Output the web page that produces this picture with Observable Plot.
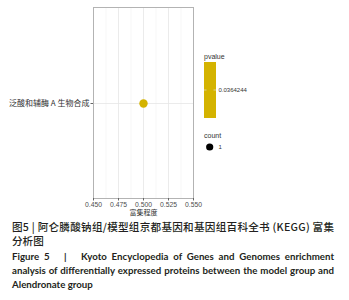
<!DOCTYPE html>
<html><head><meta charset="utf-8">
<script src="https://cdn.jsdelivr.net/npm/d3@7"></script>
<script src="https://cdn.jsdelivr.net/npm/@observablehq/plot@0.6"></script>
<style>
body{margin:0;background:#fff;width:349px;height:300px;overflow:hidden;position:relative;font-family:"Noto Sans CJK SC",sans-serif;}
#chart{position:absolute;left:0;top:0;}
#legend{position:absolute;left:0;top:0;}
.cap{position:absolute;left:12px;width:322px;color:#231f20;}
.cn{font-family:"Noto Sans CJK SC";font-size:10.6px;font-weight:500;line-height:14px;white-space:nowrap;}
.en{font-family:Lato,"Open Sans",sans-serif;font-size:9.7px;font-weight:700;line-height:14px;}
.j{text-align:justify;text-align-last:justify;}
#cn1 span{display:inline-block;}
</style></head>
<body>
<div id="chart"></div>
<div id="legend"></div>
<div class="cap cn" id="cn1" style="top:220px">图5 | 阿仑膦酸钠组/模型组京都基因和基因组百科全书 (KEGG) 富集</div>
<div class="cap cn" style="top:234px">分析图</div>
<div class="cap en j" style="top:249px">Figure 5 &nbsp;&nbsp;| &nbsp;&nbsp;Kyoto Encyclopedia of Genes and Genomes enrichment</div>
<div class="cap en j" style="top:263px">analysis of differentially expressed proteins between the model group and</div>
<div class="cap en" style="top:277px">Alendronate group</div>
<script>
const pathways = ["泛酸和辅酶 A 生物合成"];
const richFactor = [0.5];
const pvalues = [0.0364244];
const counts = [1];
const xTicks = [0.45, 0.475, 0.5, 0.525, 0.55];
const xMinor = [0.4625, 0.4875, 0.5125, 0.5375];
const pointColor = "#d4b300";

const data = pathways.map((p, i) => ({pathway: p, rich: richFactor[i], p: pvalues[i], count: counts[i]}));

const chart = Plot.plot({
  width: 349, height: 220,
  marginLeft: 93, marginRight: 156, marginTop: 7, marginBottom: 22,
  style: {fontFamily: "Liberation Sans, Arial, sans-serif", fontSize: "7px", color: "#4d4d4d", background: "transparent"},
  x: {domain: [0.45, 0.55], label: null},
  y: {type: "point", domain: pathways, label: null},
  marks: [
    Plot.ruleX(xMinor, {stroke: "#f2f2f2", strokeWidth: 0.6}),
    Plot.ruleX(xTicks, {stroke: "#e6e6e6", strokeWidth: 0.8}),
    Plot.ruleY(pathways, {y: d => d, stroke: "#e6e6e6", strokeWidth: 0.8}),
    Plot.frame({stroke: "#b3b3b3", strokeWidth: 1}),
    Plot.axisX(xTicks, {tickSize: 2.5, tickPadding: 1, stroke: "#666", fill: "#4d4d4d", tickFormat: d3.format(".3f"), fontSize: 6.8}),
    Plot.axisY({tickSize: 2.5, tickPadding: 1.5, stroke: "#666", fill: "#333", fontSize: 8, fontFamily: "Noto Sans CJK SC"}),
    Plot.text(["富集程度"], {frameAnchor: "bottom", dy: 16.5, fontSize: 7, fill: "#333", fontFamily: "Noto Sans CJK SC", text: d => d}),
    Plot.dot(data, {x: "rich", y: "pathway", r: 4.2, fill: pointColor, stroke: null})
  ]
});
document.getElementById("chart").appendChild(chart);

// legend
const ns = "http://www.w3.org/2000/svg";
const svg = document.createElementNS(ns, "svg");
svg.setAttribute("width", 349); svg.setAttribute("height", 220);
function el(tag, attrs, text){const e=document.createElementNS(ns,tag);for(const k in attrs)e.setAttribute(k,attrs[k]);if(text!=null)e.textContent=text;svg.appendChild(e);return e;}
const lf = "Liberation Sans, Arial, sans-serif";
el("text", {x: 204, y: 58.5, "font-size": 7, fill: "#333", "font-family": lf}, "pvalue");
el("rect", {x: 204, y: 62, width: 12, height: 56, fill: pointColor});
el("line", {x1: 204, x2: 206.5, y1: 90, y2: 90, stroke: "#e8e8e8", "stroke-width": 0.6});
el("line", {x1: 213.5, x2: 216, y1: 90, y2: 90, stroke: "#e8e8e8", "stroke-width": 0.6});
el("text", {x: 218.5, y: 92.3, "font-size": 6, fill: "#333", "font-family": lf}, String(pvalues[0]));
el("text", {x: 204, y: 138, "font-size": 7, fill: "#333", "font-family": lf}, "count");
el("circle", {cx: 209.7, cy: 147, r: 3.6, fill: "#000"});
el("text", {x: 218.5, y: 149.3, "font-size": 6, fill: "#333", "font-family": lf}, String(counts[0]));
document.getElementById("legend").appendChild(svg);

// stretch the first Chinese caption line to the full text width
const cn1 = document.getElementById("cn1");
const range = document.createRange(); range.selectNodeContents(cn1);
const natural = range.getBoundingClientRect().width;
const n = cn1.textContent.length;
cn1.style.letterSpacing = Math.max(0, (322 - natural) / (n - 1)) + "px";
</script>
</body></html>
